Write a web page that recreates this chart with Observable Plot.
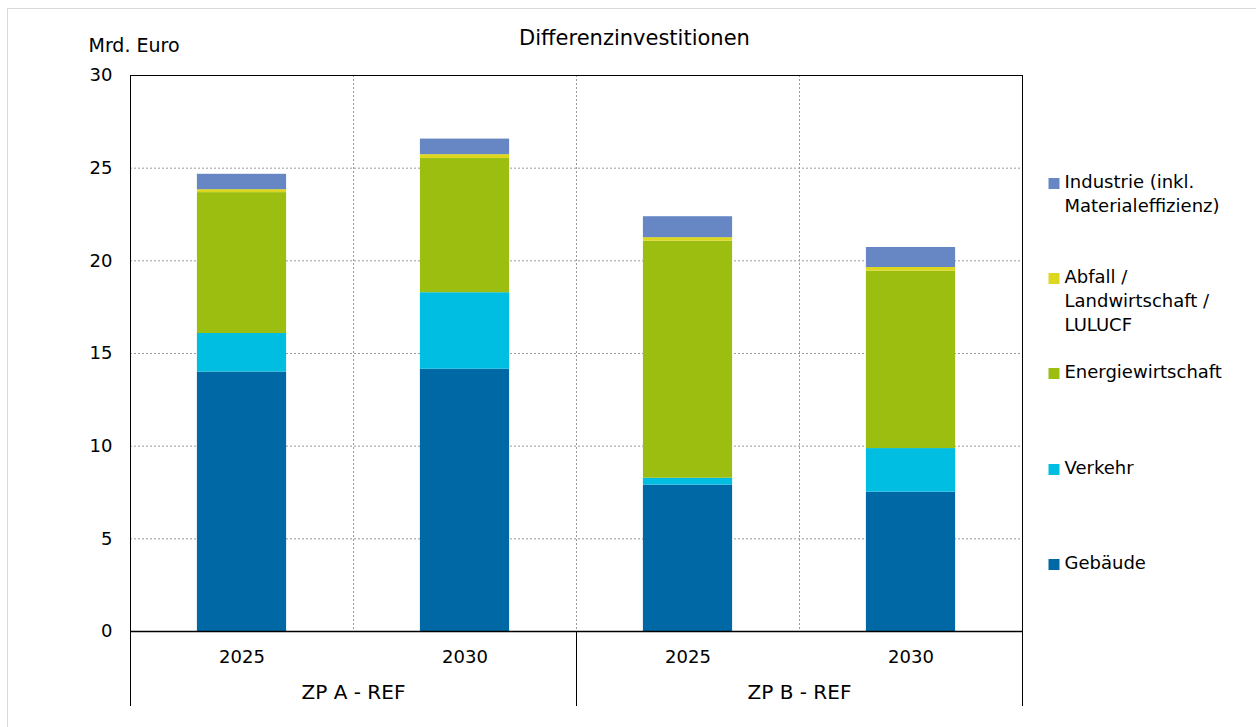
<!DOCTYPE html>
<html><head><meta charset="utf-8">
<script src="https://cdn.jsdelivr.net/npm/d3@7"></script>
<script src="https://cdn.jsdelivr.net/npm/@observablehq/plot@0.6"></script>
<style>
html,body{margin:0;padding:0;background:#fff;overflow:hidden}
#wrap{position:relative;width:1256px;height:727px;overflow:hidden;background:#fff}
#border{position:absolute;left:7px;top:8px;width:1300px;height:800px;border:1px solid #d9d9d9;}
#chart{position:absolute;left:0;top:0}
</style></head><body><div id="wrap"><div id="border"></div><div id="chart"></div></div>
<script>
const title = "Differenzinvestitionen";
const unitLabel = "Mrd. Euro";
const scenarios = ["ZP A - REF", "ZP A - REF", "ZP B - REF", "ZP B - REF"];
const years = ["2025", "2030", "2025", "2030"];
const sectors = ["Gebäude", "Verkehr", "Energiewirtschaft", "Abfall / Landwirtschaft / LULUCF", "Industrie (inkl. Materialeffizienz)"];
const legendLabels = ["Gebäude", "Verkehr", "Energiewirtschaft", "Abfall /\nLandwirtschaft /\nLULUCF", "Industrie (inkl.\nMaterialeffizienz)"];
const gebaeude  = [14.00, 14.15, 7.90, 7.52];
const verkehr   = [2.08, 4.13, 0.37, 2.35];
const energie   = [7.60, 7.24, 12.79, 9.57];
const abfall    = [0.16, 0.21, 0.19, 0.20];
const industrie = [0.83, 0.84, 1.13, 1.08];
const yTicks = [0, 5, 10, 15, 20, 25, 30];
const colors = ["#0068a5", "#00bee2", "#9bbe10", "#ddd720", "#6687c4"];

const series = [gebaeude, verkehr, energie, abfall, industrie];
const rows = [];
years.forEach((yr, i) => {
  let base = 0;
  sectors.forEach((s, k) => {
    const v = series[k][i];
    rows.push({i, sector: s, y1: base, y2: base + v});
    base += v;
  });
});
const groups = Array.from(d3.group(scenarios.map((s, i) => ({s, i})), d => d.s), ([s, arr]) => ({s, x: arr[0].i + arr.length / 2}));

const font = "DejaVu Sans, Liberation Sans, Arial, sans-serif";
const legendSquareDy = [489, 394, 298, 203, 108];
const legendTextDy = [476.4, 381.4, 285.4, 190.4, 95.4];

const legendMarks = [];
sectors.forEach((s, k) => {
  legendMarks.push(Plot.dot([s], {frameAnchor: "top-right", dx: 31.5, dy: legendSquareDy[k], symbol: "square", r: 6.2, fill: d => d, stroke: null}));
  legendMarks.push(Plot.text([legendLabels[k]], {frameAnchor: "top-right", dx: 42, dy: legendTextDy[k], textAnchor: "start", lineAnchor: "top", lineHeight: 1.333, fontSize: 18, fill: "#000"}));
});

const chart = Plot.plot({
  width: 1256,
  height: 727,
  marginLeft: 130,
  marginRight: 234,
  marginTop: 75,
  marginBottom: 96,
  style: {fontFamily: font, fontSize: "18px", background: "transparent", color: "#000"},
  x: {domain: [0, 4], axis: null},
  y: {domain: [0, 30], axis: null},
  color: {domain: sectors, range: colors},
  marks: [
    Plot.ruleY(yTicks.filter(t => t > 0 && t < 30), {stroke: "#9a9a9a", strokeDasharray: "2,2", strokeWidth: 1}),
    Plot.ruleX([1, 2, 3], {stroke: "#9a9a9a", strokeDasharray: "2,2", strokeWidth: 1}),
    Plot.rectY(rows, {x1: d => d.i + 0.3, x2: d => d.i + 0.7, y1: "y1", y2: "y2", fill: "sector"}),
    Plot.ruleY([30], {stroke: "#000", strokeWidth: 1}),
    Plot.ruleY([0], {stroke: "#000", strokeWidth: 1.5}),
    Plot.ruleX([0, 4], {stroke: "#000", strokeWidth: 1, insetBottom: -75}),
    Plot.ruleX([2], {stroke: "#000", strokeWidth: 1, insetTop: 556, insetBottom: -75}),
    Plot.axisY(yTicks, {tickSize: 0, tickPadding: 18, fontSize: 18, label: null, fill: "#000"}),
    Plot.text(years, {x: (d, i) => i + 0.5, frameAnchor: "bottom", lineAnchor: "middle", dy: 26, fontSize: 18, fill: "#000"}),
    Plot.text(groups, {x: "x", text: "s", frameAnchor: "bottom", lineAnchor: "middle", dy: 61, fontSize: 20, fill: "#000"}),
    Plot.text([title], {frameAnchor: "top", lineAnchor: "middle", dx: 58, dy: -37, fontSize: 21, fill: "#000"}),
    Plot.text([unitLabel], {frameAnchor: "top-left", lineAnchor: "middle", dx: -42, dy: -30, textAnchor: "start", fontSize: 19, fill: "#000"}),
    ...legendMarks
  ]
});
document.getElementById("chart").appendChild(chart);
</script>
</body></html>
